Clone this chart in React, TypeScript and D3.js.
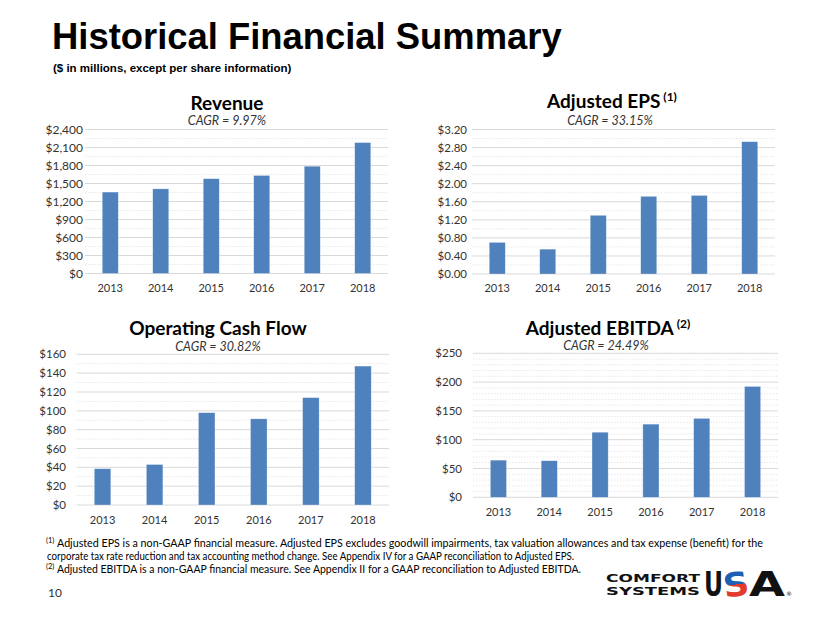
import React from "react";
import * as d3 from "d3";

const years = ["2013", "2014", "2015", "2016", "2017", "2018"];
const revenue = [1357, 1411, 1580, 1634, 1788, 2182];
const adjustedEps = [0.7, 0.55, 1.3, 1.72, 1.74, 2.93];
const operatingCashFlow = [38.5, 43, 98, 91.5, 114, 147.5];
const adjustedEbitda = [64.5, 63.5, 113, 127, 137, 192.5];

const revenueTicks = [0, 300, 600, 900, 1200, 1500, 1800, 2100, 2400];
const epsTicks = [0, 0.4, 0.8, 1.2, 1.6, 2.0, 2.4, 2.8, 3.2];
const cashFlowTicks = [0, 20, 40, 60, 80, 100, 120, 140, 160];
const ebitdaTicks = [0, 50, 100, 150, 200, 250];

const titles = ["Revenue", "Adjusted EPS", "Operating Cash Flow", "Adjusted EBITDA"];
const titleNotes = ["", "(1)", "", "(2)"];
const cagrLabels = ["CAGR = 9.97%", "CAGR = 33.15%", "CAGR = 30.82%", "CAGR = 24.49%"];

const footnotes = [
  { sup: "(1)", text: "Adjusted EPS is a non-GAAP financial measure.  Adjusted EPS excludes goodwill impairments, tax valuation allowances and tax expense (benefit) for the" },
  { sup: "", text: "corporate tax rate reduction and tax accounting method change.  See Appendix IV for a GAAP reconciliation to Adjusted EPS." },
  { sup: "(2)", text: "Adjusted EBITDA is a non-GAAP financial measure. See Appendix II for a GAAP reconciliation to Adjusted EBITDA." },
];

const BAR = "#4F81BD";
const FONT = "Lato, 'Open Sans', sans-serif";

type Layout = {
  x0: number; x1: number; yBase: number; yTop: number;
  titleX: number; titleY: number; cagrX: number; cagrY: number;
  yLabelEnd: number; xLabelY: number; yFont: number; xFont: number;
};

type PanelProps = {
  title: string; note: string; cagr: string; values: number[];
  ticks: number[]; minorStep: number; fmt: (v: number) => string; layout: Layout;
};

function Panel({ title, note, cagr, values, ticks, minorStep, fmt, layout }: PanelProps) {
  const L = layout;
  const maxV = ticks[ticks.length - 1];
  const y = d3.scaleLinear().domain([0, maxV]).range([L.yBase, L.yTop]);
  const x = d3.scaleBand<string>().domain(years).range([L.x0, L.x1]).paddingInner(0).paddingOuter(0);
  const bw = x.bandwidth() / 3.15;
  const minor = d3.range(0, maxV + 1e-9, minorStep).filter((v) => !ticks.some((t) => Math.abs(t - v) < 1e-9));
  return (
    <g>
      <text x={L.titleX} y={L.titleY} textAnchor="middle" fontFamily={FONT} fontWeight={700} fontSize={19} fill="#000">
        {title}
        {note ? <tspan fontSize={12} dy={-7}>{" " + note}</tspan> : null}
      </text>
      <text x={L.cagrX} y={L.cagrY} textAnchor="middle" fontFamily={FONT} fontStyle="italic" fontSize={12.5} fill="#333">
        {cagr}
      </text>
      {minor.map((v, i) => (
        <line key={"m" + i} x1={L.x0} x2={L.x1} y1={y(v)} y2={y(v)} stroke="#E8E8E8" strokeWidth={1} strokeDasharray="1.5,1.5" />
      ))}
      {ticks.map((t, i) => (
        <g key={"t" + i}>
          <line x1={L.x0} x2={L.x1} y1={y(t)} y2={y(t)} stroke="#D9D9D9" strokeWidth={1} />
          <text x={L.yLabelEnd} y={y(t)} dy="0.35em" textAnchor="end" fontFamily={FONT} fontSize={L.yFont} fill="#333">
            {fmt(t)}
          </text>
        </g>
      ))}
      {values.map((v, i) => {
        const cx = (x(years[i]) as number) + x.bandwidth() / 2;
        return (
          <rect key={"b" + i} x={cx - bw / 2} y={y(v)} width={bw} height={y(0) - y(v)} fill={BAR} stroke="#fff" strokeOpacity={0.5} strokeWidth={0.6} />
        );
      })}
      {years.map((yr) => (
        <text key={yr} x={(x(yr) as number) + x.bandwidth() / 2} y={L.xLabelY} textAnchor="middle" fontFamily={FONT} fontSize={L.xFont} fill="#333">
          {yr}
        </text>
      ))}
    </g>
  );
}

const layouts: Layout[] = [
  { x0: 85, x1: 388, yBase: 273.5, yTop: 129.5, titleX: 227, titleY: 110, cagrX: 227, cagrY: 125, yLabelEnd: 83, xLabelY: 292, yFont: 12, xFont: 11 },
  { x0: 472, x1: 775, yBase: 274, yTop: 129.5, titleX: 612, titleY: 108, cagrX: 610, cagrY: 125, yLabelEnd: 467, xLabelY: 292, yFont: 11.5, xFont: 11 },
  { x0: 76.5, x1: 389, yBase: 505, yTop: 354.3, titleX: 218, titleY: 335, cagrX: 218, cagrY: 351, yLabelEnd: 66, xLabelY: 524, yFont: 11.5, xFont: 11 },
  { x0: 473, x1: 778, yBase: 497.3, yTop: 353.3, titleX: 608, titleY: 335, cagrX: 606, cagrY: 350, yLabelEnd: 462, xLabelY: 516, yFont: 11.5, xFont: 11 },
];

export default function App() {
  const fmtRev = d3.format("$,");
  const fmtEps = d3.format("$.2f");
  const fmtInt = d3.format("$");
  const footY = [546.5, 559.5, 572.5];
  const footStart = [57, 47, 57];
  const footEnd = [763, 574, 581];
  return (
    <svg width={830} height={623} style={{ position: "absolute", left: 0, top: 0, background: "#fff" }}>
      <defs>
        <linearGradient id="sGrad" x1="0" y1="0" x2="0" y2="1">
          <stop offset="0%" stopColor="#1D5FB0" />
          <stop offset="50%" stopColor="#1D5FB0" />
          <stop offset="50%" stopColor="#E23B2E" />
          <stop offset="100%" stopColor="#E23B2E" />
        </linearGradient>
      </defs>
      <rect width={830} height={623} fill="#fff" />
      <text x={52} y={49} fontFamily="'Liberation Sans', Arial, sans-serif" fontWeight={700} fontSize={36.4} fill="#000">
        Historical Financial Summary
      </text>
      <text x={53} y={72} fontFamily="'Liberation Sans', Arial, sans-serif" fontWeight={700} fontSize={11.5} fill="#000">
        ($ in millions, except per share information)
      </text>

      <Panel title={titles[0]} note={titleNotes[0]} cagr={cagrLabels[0]} values={revenue} ticks={revenueTicks} minorStep={150} fmt={fmtRev} layout={layouts[0]} />
      <Panel title={titles[1]} note={titleNotes[1]} cagr={cagrLabels[1]} values={adjustedEps} ticks={epsTicks} minorStep={0.2} fmt={fmtEps} layout={layouts[1]} />
      <Panel title={titles[2]} note={titleNotes[2]} cagr={cagrLabels[2]} values={operatingCashFlow} ticks={cashFlowTicks} minorStep={10} fmt={fmtInt} layout={layouts[2]} />
      <Panel title={titles[3]} note={titleNotes[3]} cagr={cagrLabels[3]} values={adjustedEbitda} ticks={ebitdaTicks} minorStep={10} fmt={fmtInt} layout={layouts[3]} />

      {footnotes.map((f, i) => (
        <g key={i}>
          {f.sup ? (
            <text x={46} y={footY[i] - 4} fontFamily={FONT} fontSize={7.5} fill="#000">{f.sup}</text>
          ) : null}
          <text x={footStart[i]} y={footY[i]} fontFamily={FONT} fontSize={11} fill="#000" textLength={footEnd[i] - footStart[i]} lengthAdjust="spacingAndGlyphs">
            {f.text}
          </text>
        </g>
      ))}
      <text x={48} y={597} fontFamily={FONT} fontSize={12} fill="#333">10</text>

      <g>
        <text x={606} y={582} fontFamily="'DejaVu Sans', sans-serif" fontWeight={700} fontSize={11} textLength={94} lengthAdjust="spacingAndGlyphs" fill="#111">COMFORT</text>
        <text x={606} y={595} fontFamily="'DejaVu Sans', sans-serif" fontWeight={700} fontSize={11} textLength={94} lengthAdjust="spacingAndGlyphs" fill="#111">SYSTEMS</text>
        <text x={704} y={596} fontFamily="'DejaVu Sans', sans-serif" fontWeight={700} fontSize={33} textLength={19} lengthAdjust="spacingAndGlyphs" fill="#111">U</text>
        <text x={723} y={596} fontFamily="'DejaVu Sans', sans-serif" fontWeight={700} fontSize={33} textLength={26} lengthAdjust="spacingAndGlyphs" fill="url(#sGrad)" transform="rotate(-8 736 584)">S</text>
        <text x={749} y={596} fontFamily="'DejaVu Sans', sans-serif" fontWeight={700} fontSize={33} textLength={36} lengthAdjust="spacingAndGlyphs" fill="#111">A</text>
        <text x={786} y={596} fontFamily="'DejaVu Sans', sans-serif" fontSize={6} fill="#111">®</text>
      </g>
    </svg>
  );
}
